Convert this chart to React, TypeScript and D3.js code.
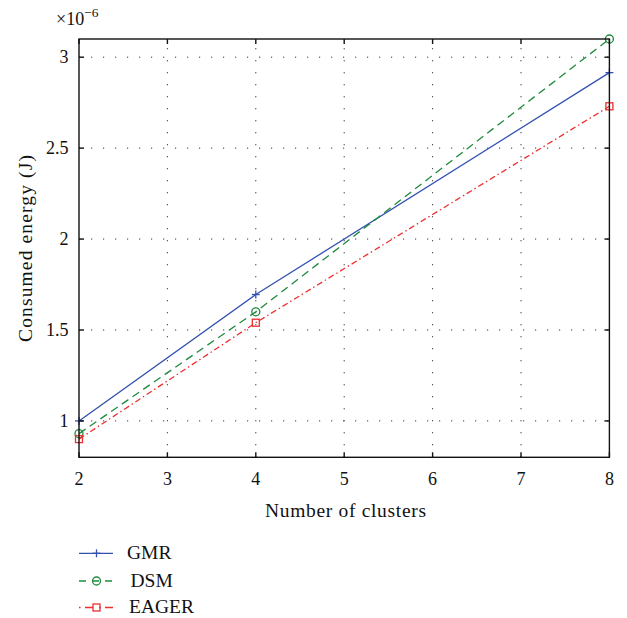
import React from "react";
import * as d3 from "d3";

const clusters = [2, 4, 8];
const gmr = [1.0, 1.695, 2.915];
const dsm = [0.93, 1.6, 3.1];
const eager = [0.9, 1.54, 2.73];
const xTicks = [2, 3, 4, 5, 6, 7, 8];
const yTicks = [1, 1.5, 2, 2.5, 3];
const seriesNames = ["GMR", "DSM", "EAGER"];

const W = 627, H = 618;
const L = 79, R = 609.4, T = 39, B = 457.3;
const FONT = "'Liberation Serif', 'DejaVu Serif', serif";

export default function App() {
  const x = d3.scaleLinear().domain([2, 8]).range([L, R]);
  const y = d3.scaleLinear().domain([0.8, 3.1]).range([B, T]);
  const line = d3.line<[number, number]>().x(d => x(d[0])).y(d => y(d[1]));
  const series = [
    { name: seriesNames[0], vals: gmr, color: "#3352b0", dash: "none", ldash: "none", marker: "plus", tx: 127 },
    { name: seriesNames[1], vals: dsm, color: "#1f8a3e", dash: "8,5", ldash: "7,6", marker: "circle", tx: 130.5 },
    { name: seriesNames[2], vals: eager, color: "#ec2f2f", dash: "6,3,1.5,3", ldash: "1.5,4.5,8,6", marker: "square", tx: 129 },
  ];
  const legendY = [553.3, 581, 607.5];
  const marker = (m: string, cx: number, cy: number, color: string, key: string) => {
    if (m === "plus")
      return (
        <g key={key} stroke={color} strokeWidth={1.3}>
          <line x1={cx - 4} x2={cx + 4} y1={cy} y2={cy} />
          <line x1={cx} x2={cx} y1={cy - 4} y2={cy + 4} />
        </g>
      );
    if (m === "circle")
      return <circle key={key} cx={cx} cy={cy} r={4} fill="none" stroke={color} strokeWidth={1.3} />;
    return <rect key={key} x={cx - 3.5} y={cy - 3.5} width={7} height={7} fill="none" stroke={color} strokeWidth={1.3} />;
  };
  return (
    <svg width={W} height={H} style={{ position: "absolute", left: 0, top: 0, background: "#fff" }} fontFamily={FONT}>
      {/* grid */}
      <g stroke="#333" strokeWidth={1} strokeDasharray="1.2,10.8">
        {xTicks.slice(1, -1).map(t => (
          <line key={"gx" + t} x1={x(t)} x2={x(t)} y1={B} y2={T} />
        ))}
        {yTicks.map(t => (
          <line key={"gy" + t} x1={L} x2={R} y1={y(t)} y2={y(t)} />
        ))}
      </g>
      {/* series */}
      {series.map(s => (
        <g key={s.name}>
          <path d={line(clusters.map((c, i) => [c, s.vals[i]]) as [number, number][]) || ""} fill="none" stroke={s.color} strokeWidth={1.3} strokeDasharray={s.dash} />
          {clusters.map((c, i) => marker(s.marker, x(c), y(s.vals[i]), s.color, s.name + i))}
        </g>
      ))}
      {/* frame */}
      <rect x={L} y={T} width={R - L} height={B - T} fill="none" stroke="#111" strokeWidth={1.4} />
      <g stroke="#111" strokeWidth={1.4}>
        {xTicks.map(t => (
          <g key={"tx" + t}>
            <line x1={x(t)} x2={x(t)} y1={B} y2={B - 5} />
            <line x1={x(t)} x2={x(t)} y1={T} y2={T + 5} />
          </g>
        ))}
        {yTicks.map(t => (
          <g key={"ty" + t}>
            <line x1={L} x2={L + 5} y1={y(t)} y2={y(t)} />
            <line x1={R} x2={R - 5} y1={y(t)} y2={y(t)} />
          </g>
        ))}
      </g>
      {/* tick labels */}
      <g fontSize={18} fill="#111">
        {xTicks.map(t => (
          <text key={"lx" + t} x={x(t)} y={485} textAnchor="middle">{t}</text>
        ))}
        {yTicks.map(t => (
          <text key={"ly" + t} x={68.5} y={y(t) + 6} textAnchor="end">{t}</text>
        ))}
      </g>
      <text x={56} y={25} fontSize={18} fill="#111">
        ×10<tspan dy={-8} fontSize={13.5}>−6</tspan>
      </text>
      <text x={265} y={516.7} fontSize={19.5} fill="#111" textLength={161} lengthAdjust="spacing">Number of clusters</text>
      <text transform={`translate(32,342) rotate(-90)`} fontSize={19.5} fill="#111" textLength={187} lengthAdjust="spacing">Consumed energy (J)</text>
      {/* legend */}
      {series.map((s, i) => {
        const ly = legendY[i];
        return (
          <g key={"lg" + s.name}>
            <line x1={79} x2={113} y1={ly} y2={ly} stroke={s.color} strokeWidth={1.3} strokeDasharray={s.ldash} />
            {marker(s.marker, 96.5, ly, s.color, "lm" + i)}
            <text x={s.tx} y={ly + 5.5} fontSize={19.5} fill="#111">{s.name}</text>
          </g>
        );
      })}
    </svg>
  );
}
